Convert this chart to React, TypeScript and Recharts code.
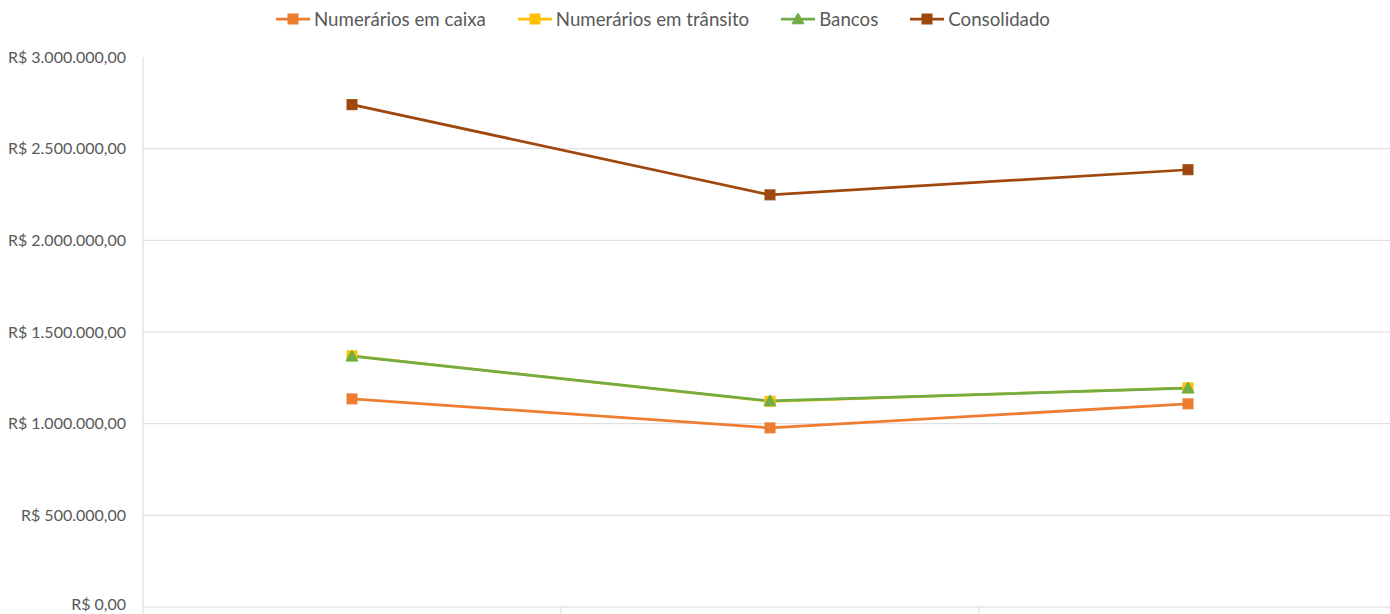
import React from "react";
import {
  LineChart,
  Line,
  XAxis,
  YAxis,
  CartesianGrid,
} from "recharts";

const periods = ["Janeiro", "Fevereiro", "Março"];
const caixa = [1135000, 977000, 1108000];
const transito = [1370000, 1122000, 1195000];
const bancos = [1368000, 1124000, 1194000];
const consolidado = [2740000, 2248000, 2385000];
const yTicks = [0, 500000, 1000000, 1500000, 2000000, 2500000, 3000000];

const data = periods.map((p, i) => ({
  periodo: p,
  caixa: caixa[i],
  transito: transito[i],
  bancos: bancos[i],
  consolidado: consolidado[i],
}));

const series = [
  { key: "caixa", name: "Numerários em caixa", color: "#ED7D31", shape: "square" },
  { key: "transito", name: "Numerários em trânsito", color: "#FFC000", shape: "square" },
  { key: "bancos", name: "Bancos", color: "#70AD47", shape: "triangle" },
  { key: "consolidado", name: "Consolidado", color: "#9E480E", shape: "square" },
];

const FONT = "Lato, 'Open Sans', sans-serif";
const GRID = "#d9d9d9";
const CHART_W = 1400;
const MARGIN_L = 143;
const MARGIN_R = 3;
const HALF_BAND = (CHART_W - MARGIN_L - MARGIN_R) / periods.length / 2;

function brl(v: number) {
  const [int, dec] = v.toFixed(2).split(".");
  const withDots = int.replace(/\B(?=(\d{3})+(?!\d))/g, ".");
  return `R$ ${withDots},${dec}`;
}

function Marker({ shape, color, cx, cy }: any) {
  if (cx == null || cy == null) return null;
  if (shape === "triangle") {
    const s = 6;
    return (
      <path
        d={`M${cx},${cy - s} L${cx + s},${cy + s * 0.8} L${cx - s},${cy + s * 0.8} Z`}
        fill={color}
        stroke={color}
      />
    );
  }
  return <rect x={cx - 5} y={cy - 5} width={10} height={10} fill={color} stroke={color} />;
}

function ChartLegend() {
  return (
    <div
      style={{
        position: "absolute",
        left: 276,
        top: 8,
        display: "flex",
        alignItems: "center",
        gap: 32,
        fontFamily: FONT,
        fontSize: 18.7,
        color: "#595959",
        whiteSpace: "nowrap",
      }}
    >
      {series.map((s) => (
        <div key={s.key} style={{ display: "flex", alignItems: "center" }}>
          <svg width={34} height={14} style={{ marginRight: 4 }}>
            <line x1={0} x2={34} y1={7} y2={7} stroke={s.color} strokeWidth={2.75} />
            <Marker shape={s.shape} color={s.color} cx={17} cy={7} />
          </svg>
          <span>{s.name}</span>
        </div>
      ))}
    </div>
  );
}

function XTick(props: any) {
  const { x, y, index } = props;
  const last = index === periods.length - 1;
  return (
    <g>
      <line x1={x - HALF_BAND} x2={x - HALF_BAND} y1={y} y2={y + 7} stroke={GRID} strokeWidth={1} />
      {last && (
        <line x1={x + HALF_BAND} x2={x + HALF_BAND} y1={y} y2={y + 7} stroke={GRID} strokeWidth={1} />
      )}
    </g>
  );
}

function YTick(props: any) {
  const { x, y, payload } = props;
  // the bottom label sits on the clipped edge; nudge it up so it stays whole
  const dy = payload.value === 0 ? -3 : 0;
  return (
    <text
      x={x}
      y={y + dy}
      dy="0.355em"
      textAnchor="end"
      fill="#595959"
      fontSize={16}
      fontFamily={FONT}
    >
      {brl(payload.value)}
    </text>
  );
}

export default function App() {
  return (
    <div
      style={{
        position: "absolute",
        left: 0,
        top: 0,
        width: 1390,
        height: 614,
        overflow: "hidden",
        background: "#fff",
      }}
    >
      <LineChart
        width={CHART_W}
        height={640}
        data={data}
        margin={{ top: 57, right: MARGIN_R, left: 0, bottom: 3 }}
      >
        <CartesianGrid
          vertical={false}
          stroke={GRID}
          horizontalValues={[500000, 1000000, 1500000, 2000000, 2500000]}
        />
        <XAxis
          dataKey="periodo"
          height={30}
          padding={{ left: HALF_BAND, right: HALF_BAND }}
          axisLine={{ stroke: GRID }}
          tickLine={false}
          tickSize={0}
          tickMargin={0}
          tick={<XTick />}
          interval={0}
        />
        <YAxis
          width={MARGIN_L}
          domain={[0, 3000000]}
          ticks={yTicks}
          axisLine={{ stroke: GRID }}
          tickLine={false}
          tickSize={0}
          tickMargin={17}
          tick={<YTick />}
        />
        {series.map((s) => (
          <Line
            key={s.key}
            dataKey={s.key}
            name={s.name}
            stroke={s.color}
            strokeWidth={2.75}
            isAnimationActive={false}
            dot={(p: any) => <Marker key={`${s.key}-${p.index}`} shape={s.shape} color={s.color} cx={p.cx} cy={p.cy} />}
            activeDot={false}
          />
        ))}
      </LineChart>
      <ChartLegend />
    </div>
  );
}
